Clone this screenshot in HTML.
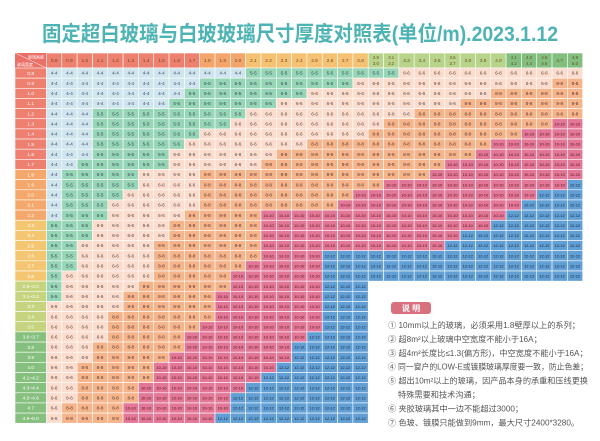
<!DOCTYPE html>
<html><head><meta charset="utf-8">
<style>
html,body{margin:0;padding:0;background:#fff;}
svg{display:block;}
</style></head>
<body>
<svg id="chart" width="600" height="441" viewBox="0 0 600 441" xmlns="http://www.w3.org/2000/svg">
<rect x="0" y="0" width="600" height="441" fill="#ffffff"/>
<text x="300" y="41" text-anchor="middle" font-family="'Liberation Sans','Noto Sans CJK SC',sans-serif" font-size="21" font-weight="bold" fill="#4db3b3" textLength="516" lengthAdjust="spacingAndGlyphs">固定超白玻璃与白玻玻璃尺寸厚度对照表(单位/m).2023.1.12</text>
<g id="grid"></g>
<g id="legend">
  <rect x="391" y="302" width="40" height="12" rx="3" fill="#d9707e"/>
  <text x="411" y="311" text-anchor="middle" font-family="'Liberation Sans','Noto Sans CJK SC',sans-serif" font-size="8" font-weight="bold" fill="#fff">说 明</text>
</g>
</svg>
<script>
const colLabels = ["0.8","0.9","1.0","1.1","1.2","1.3","1.4","1.5","1.6","1.7","1.8","1.9","2.0","2.1","2.2","2.3","2.4","2.5","2.6","2.7","2.8","2.9/3.0","3.1/3.2","3.3","3.4","3.5","3.6/3.7","3.8","3.9","4.0","4.1/4.2","4.3/4.4","4.5/4.6","4.7","4.8/5.0"];
const rowLabels = ["0.8","0.9","1.0","1.1","1.2","1.3","1.4","1.5","1.6","1.7","1.8","1.9","2.0","2.1","2.2","2.3","2.4","2.5","2.6","2.7","2.8","2.9~3.0","3.1~3.2","3.3","3.4","3.5","3.6~3.7","3.8","3.9","4.0","4.1~4.2","4.3~4.4","4.5~4.6","4.7","4.9~5.0"];
// column index where each thickness class starts, per row
const start5  = [13,10,9,8,3,3,3,3,3,2,1,1,1,1,1,0,0,0,0,0,0,0,0,0,0,0,0,0,0,0,0,0,0,0,0];
const start6  = [23,20,17,15,13,12,10,9,8,8,6,6,5,4,4,3,3,2,2,2,1,1,1,0,0,0,0,0,0,0,0,0,0,0,0];
const start8  = [35,33,29,27,24,22,21,17,15,14,10,10,10,10,9,8,8,7,7,7,7,6,5,5,4,4,4,3,3,2,2,2,2,1,1];
const start10 = [35,35,35,35,35,33,31,29,28,26,25,22,20,19,14,14,14,14,14,13,12,12,11,11,11,10,9,9,8,7,7,6,6,5,5];
const start12 = [35,35,35,35,35,35,35,35,35,35,35,34,32,31,30,29,27,26,18,18,18,18,18,18,18,18,17,16,16,15,14,13,12,12,11];
const rowLength = [35,35,35,35,35,35,35,35,35,35,35,35,35,35,35,35,35,35,35,35,35,21,21,21,21,21,21,21,21,21,21,21,21,21,21];
const thicknessLabels = ["4-4","5-5","6-6","8-8","10-10","12-12"];
const notes = ["① 10mm以上的玻璃，必须采用1.8壁厚以上的系列；","② 超8m²以上玻璃中空宽度不能小于16A；","③ 超4m²长度比≤1.3(偏方形)，中空宽度不能小于16A；","④ 同一窗户的LOW-E或镀膜玻璃厚度要一致，防止色差；","⑤ 超出10m²以上的玻璃，因产品本身的承重和压线更换","   特殊需要和技术沟通；","⑥ 夹胶玻璃其中一边不能超过3000；","⑦ 色玻、镀膜只能做到9mm，最大尺寸2400*3280。"];

const NS="http://www.w3.org/2000/svg";
const fills=["#cfe6ef","#96d5b6","#fbdccd","#f5b48a","#e27797","#629fd5"];
const txtCol=["#446","#345","#544","#533","#511","#123"];
const X0=46.5, CW=15.32, Y0=68, RH=10.15, LX=15;
const xOf=c=>X0+c*CW;
const yOf=r=>Y0+r*RH;
const g=document.getElementById('grid');
function mk(tag,attrs){const e=document.createElementNS(NS,tag);for(const k in attrs)e.setAttribute(k,attrs[k]);return e;}
function headColor(c){return c<10?"#ee8070":c<13?"#f3a56c":c<21?"#f5c273":c<30?"#b8d48b":"#82bf7e";}
function rowColor(r){return r<10?"#ee8070":r<15?"#f4a86c":r<21?"#f4c672":r<26?"#c6d47f":"#86c07f";}
const FF="'Liberation Sans','Noto Sans CJK SC',sans-serif";

const corner=mk('rect',{x:LX,y:53,width:X0-LX,height:Y0-53,fill:"#ea7068"});


g.appendChild(corner);
g.appendChild(mk('line',{x1:LX,y1:53,x2:X0,y2:Y0,stroke:"#fff","stroke-width":0.5}));
const ct1=mk('text',{x:44,y:58.5,"text-anchor":"end","font-family":FF,"font-size":4,fill:"#fff"});ct1.textContent="玻璃高度";


g.appendChild(ct1);
const ct2=mk('text',{x:17,y:66,"font-family":FF,"font-size":4,fill:"#fff"});ct2.textContent="玻璃宽度";


g.appendChild(ct2);

colLabels.forEach((lab,c)=>{
  const rc=mk('rect',{x:xOf(c),y:53,width:CW,height:Y0-53,fill:headColor(c),stroke:"#fff","stroke-width":0.6});
  
  
  g.appendChild(rc);
  const parts=lab.split('/');
  parts.forEach((p,i)=>{
    const t=mk('text',{x:xOf(c)+CW/2,y:parts.length>1?(59+i*6):62,"text-anchor":"middle","font-family":FF,"font-size":parts.length>1?4.3:4.8,fill:"#6a4a2a"});
    t.textContent=p;
    
    
    g.appendChild(t);
  });
});

rowLabels.forEach((lab,r)=>{
  const rr=mk('rect',{x:LX,y:yOf(r),width:X0-LX,height:RH,fill:rowColor(r),stroke:"#fff","stroke-width":0.6});
  
  
  g.appendChild(rr);
  const t=mk('text',{x:(LX+X0)/2,y:yOf(r)+RH/2+1.7,"text-anchor":"middle","font-family":FF,"font-size":4.8,fill:"#fff"});
  t.textContent=lab;
  
  
  g.appendChild(t);
  for(let c=0;c<rowLength[r];c++){
    let k=0;
    if(c>=start5[r])k=1;
    if(c>=start6[r])k=2;
    if(c>=start8[r])k=3;
    if(c>=start10[r])k=4;
    if(c>=start12[r])k=5;
    const cell=mk('rect',{x:xOf(c),y:yOf(r),width:CW,height:RH,fill:fills[k],stroke:"#fff","stroke-width":0.6});
    
    
    g.appendChild(cell);
    const ct=mk('text',{x:xOf(c)+CW/2,y:yOf(r)+RH/2+1.6,"text-anchor":"middle","font-family":FF,"font-size":k>=4?4:4.6,fill:txtCol[k]});
    ct.textContent=thicknessLabels[k];
    
    
    g.appendChild(ct);
  }
});

const lg=document.getElementById('legend');
notes.forEach((n,i)=>{
  const x0=n.startsWith(' ')?398:388;
  const t=mk('text',{x:x0,y:328+i*13.9,"font-family":FF,"font-size":8.2,fill:"#555"});
  t.textContent=n.trim();
  
  
  lg.appendChild(t);
  const w=t.getComputedTextLength();
  if(x0+w>588){t.setAttribute('textLength',588-x0);t.setAttribute('lengthAdjust','spacingAndGlyphs');}
});
</script>
</body></html>
